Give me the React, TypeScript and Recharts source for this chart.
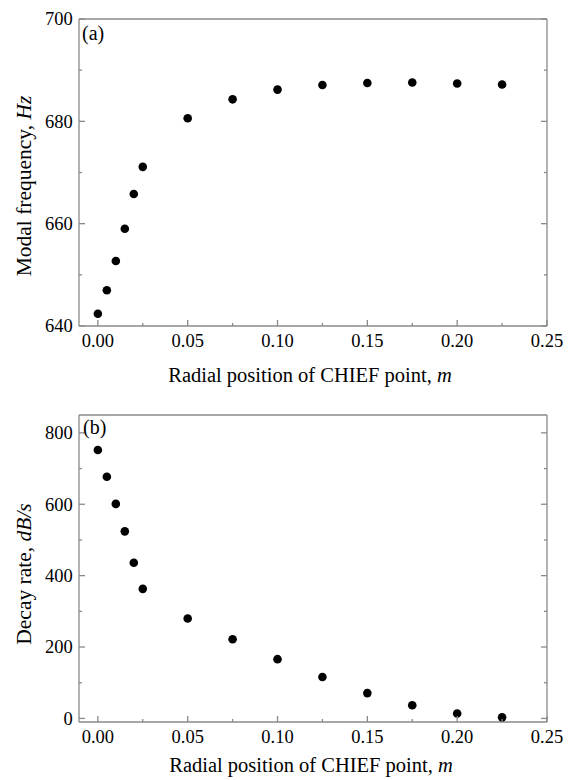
import React from 'react';
import { ScatterChart, Scatter, XAxis, YAxis } from 'recharts';

const positions = [0, 0.005, 0.01, 0.015, 0.02, 0.025, 0.05, 0.075, 0.1, 0.125, 0.15, 0.175, 0.2, 0.225];
const modalFrequency = [642.4, 647.0, 652.7, 659.0, 665.8, 671.1, 680.6, 684.3, 686.2, 687.1, 687.5, 687.6, 687.4, 687.2];
const decayRate = [752, 677, 601, 524, 436, 363, 280, 222, 166, 116, 71, 37, 14, 3];

const xMajorTicks = [0, 0.05, 0.1, 0.15, 0.2, 0.25];
const xMinorTicks = [0.025, 0.075, 0.125, 0.175, 0.225];
const freqMajorTicks = [640, 660, 680, 700];
const freqMinorTicks = [650, 670, 690];
const decayMajorTicks = [0, 200, 400, 600, 800];
const decayMinorTicks = [100, 300, 500, 700];

const xTitle = 'Radial position of CHIEF point, ';
const xTitleUnit = 'm';
const freqTitle = 'Modal frequency, ';
const freqUnit = 'Hz';
const decayTitle = 'Decay rate, ';
const decayUnit = 'dB/s';

const X_DOMAIN: [number, number] = [-0.0105, 0.25];
const FREQ_DOMAIN: [number, number] = [640, 700];
const DECAY_DOMAIN: [number, number] = [-10, 850];

const FONT = '"Liberation Serif", "Times New Roman", serif';
const AXIS = '#8a8a8a';
const TICK_FONT = 18.5;

const freqData = positions.map((x, i) => ({ x, y: modalFrequency[i] }));
const decayData = positions.map((x, i) => ({ x, y: decayRate[i] }));

const Dot = (p: any) => <circle cx={p.cx} cy={p.cy} r={4.3} fill="#000" />;

const sortNums = (a: number[], b: number[]) => [...a, ...b].sort((p, q) => p - q);

function makeTick(side: string, major: number[], label: boolean, fmt: (v: number) => string) {
  return (props: any) => {
    const { x, y, payload } = props;
    const v = payload.value;
    const isMajor = major.some((m) => Math.abs(m - v) < 1e-9);
    const len = isMajor ? 6 : 3;
    let x2 = x, y2 = y;
    if (side === 'bottom') y2 = y - len;
    if (side === 'top') y2 = y + len;
    if (side === 'left') x2 = x + len;
    if (side === 'right') x2 = x - len;
    return (
      <g>
        <line x1={x} y1={y} x2={x2} y2={y2} stroke={AXIS} strokeWidth={1.3} />
        {label && isMajor && side === 'bottom' && (
          <text x={x} y={y + 21} textAnchor="middle" fontSize={TICK_FONT} fontFamily={FONT} fill="#000">{fmt(v)}</text>
        )}
        {label && isMajor && side === 'left' && (
          <text x={x - 6.3} y={y + 6.4} textAnchor="end" fontSize={TICK_FONT} fontFamily={FONT} fill="#000">{fmt(v)}</text>
        )}
      </g>
    );
  };
}

function Panel({ data, yDomain, yMajor, yMinor, top }: any) {
  const line = { stroke: AXIS, strokeWidth: 1.3 };
  const xAll = sortNums(xMajorTicks, xMinorTicks);
  const yAll = sortNums(yMajor, yMinor);
  const xh = 390 - top - 307;
  return (
    <ScatterChart width={572} height={390} margin={{ top: top - 1, right: 24, bottom: 0, left: 0 }}>
      <XAxis xAxisId="xb" dataKey="x" type="number" orientation="bottom" domain={X_DOMAIN} allowDataOverflow
        ticks={xAll} interval={0} height={xh} tickSize={0} tickMargin={0} axisLine={line} tickLine={false}
        tick={makeTick('bottom', xMajorTicks, true, (v) => v.toFixed(2))} />
      <XAxis xAxisId="xt" type="number" orientation="top" domain={X_DOMAIN} allowDataOverflow
        ticks={xAll} interval={0} height={1} tickSize={0} tickMargin={0} axisLine={line} tickLine={false}
        tick={makeTick('top', xMajorTicks, false, String)} />
      <YAxis yAxisId="yl" dataKey="y" type="number" orientation="left" domain={yDomain} allowDataOverflow
        ticks={yAll} interval={0} width={79} tickSize={0} tickMargin={0} axisLine={line} tickLine={false}
        tick={makeTick('left', yMajor, true, String)} />
      <YAxis yAxisId="yr" type="number" orientation="right" domain={yDomain} allowDataOverflow
        ticks={yAll} interval={0} width={1} tickSize={0} tickMargin={0} axisLine={line} tickLine={false}
        tick={makeTick('right', yMajor, false, String)} />
      <Scatter xAxisId="xb" yAxisId="yl" data={data} shape={Dot} isAnimationActive={false} />
    </ScatterChart>
  );
}

export default function App() {
  return (
    <div style={{ position: 'absolute', left: 0, top: 0, width: 572, height: 780, background: '#fff' }}>
      <div style={{ position: 'absolute', left: 0, top: 0 }}>
        <Panel data={freqData} yDomain={FREQ_DOMAIN} yMajor={freqMajorTicks} yMinor={freqMinorTicks} top={19} />
      </div>
      <div style={{ position: 'absolute', left: 0, top: 390 }}>
        <Panel data={decayData} yDomain={DECAY_DOMAIN} yMajor={decayMajorTicks} yMinor={decayMinorTicks} top={25} />
      </div>
      <svg width={572} height={780} style={{ position: 'absolute', left: 0, top: 0, pointerEvents: 'none' }}
        fontFamily={FONT} fill="#000">
        <text x={82} y={40} fontSize={20}>(a)</text>
        <text x={83} y={434} fontSize={20}>(b)</text>
        <text x={310} y={382} fontSize={20.5} textAnchor="middle">
          {xTitle}<tspan fontStyle="italic">{xTitleUnit}</tspan>
        </text>
        <text x={311} y={771.5} fontSize={20.5} textAnchor="middle">
          {xTitle}<tspan fontStyle="italic">{xTitleUnit}</tspan>
        </text>
        <text x={31} y={186} fontSize={21.5} textAnchor="middle" transform="rotate(-90 31 186)">
          {freqTitle}<tspan fontStyle="italic">{freqUnit}</tspan>
        </text>
        <text x={31} y={574} fontSize={21.5} textAnchor="middle" transform="rotate(-90 31 574)">
          {decayTitle}<tspan fontStyle="italic">{decayUnit}</tspan>
        </text>
      </svg>
    </div>
  );
}
